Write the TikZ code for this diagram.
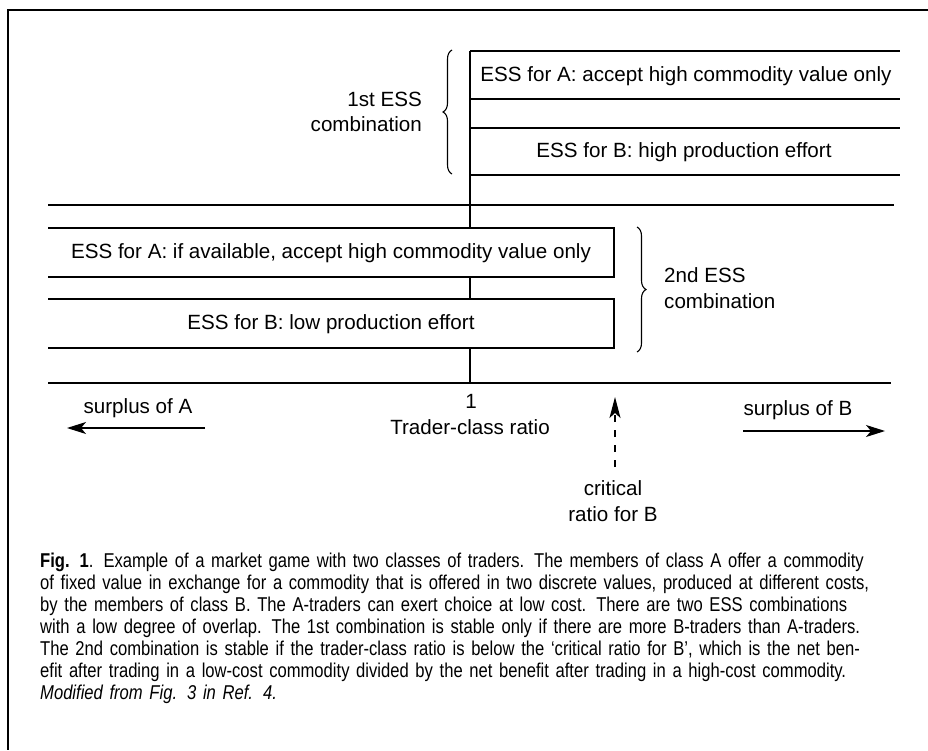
\documentclass[tikz,border=0pt]{standalone}
\usepackage{fontspec}
\setmainfont{Liberation Sans}
\newfontfamily\capfont[FakeStretch=0.83]{Liberation Sans}
\usetikzlibrary{arrows.meta,decorations.pathreplacing}
\tikzset{
  lbl/.style={inner sep=0pt, font=\fontsize{20.6}{25.5}\selectfont},
  thin line/.style={line width=1.2pt},
  thick line/.style={line width=2.7pt},
  boxshape/.style={line width=1.2pt, fill=white},
  bracestyle/.style={line width=1.1pt, decorate, decoration={brace, amplitude=9pt}},
  surplusarrow/.style={line width=1.2pt, -{Stealth[length=19pt, width=12pt, inset=5pt]}},
  critarrow/.style={line width=1.2pt, dash pattern=on 7pt off 8pt, -{Stealth[length=21pt, width=11pt, inset=5pt]}},
}
\newcommand{\capline}[1]{\makebox[858pt][s]{#1}}
\begin{document}
\begin{tikzpicture}[x=1pt,y=-1pt]
\useasboundingbox (0,0) rectangle (928,750);
% frame
\coordinate (fTL) at (8,10);
\coordinate (fTR) at (928,10);
\coordinate (fBL) at (8,750);
\draw[line width=1.3pt] (fTR) -- (fTL) -- (fBL);

% axis coordinates
\coordinate (axTop) at (470,51);
\coordinate (axBot) at (470,383);
\draw[thick line] (axTop) -- (axBot);

% top rows
\foreach \yy/\nm in {51/r1,99/r2,128/r3,175/r4}{
  \coordinate (\nm L) at (470,\yy);
  \coordinate (\nm R) at (900,\yy);
  \draw[thin line] (\nm L) -- (\nm R);
}
\node[lbl] (essA1) at (686,76) {ESS for A: accept high commodity value only};
\node[lbl] (essB1) at (684,152) {ESS for B: high production effort};

% thick middle line
\coordinate (midL) at (48,205);
\coordinate (midR) at (894,205);
\draw[thick line] (midL) -- (midR);

% lower boxes
\draw[boxshape] (48,228) -- (614,228) -- (614,277) -- (48,277);
\draw[boxshape] (48,299) -- (614,299) -- (614,348) -- (48,348);
\node[lbl] (essA2) at (331,253) {ESS for A: if available, accept high commodity value only};
\node[lbl] (essB2) at (331,324) {ESS for B: low production effort};

% bottom axis line
\coordinate (botL) at (48,383);
\coordinate (botR) at (891,383);
\draw[thick line] (botL) -- (botR);

% braces
\coordinate (b1bot) at (452,174);
\coordinate (b1top) at (452,50);
\draw[bracestyle] (b1bot) -- (b1top);
\node[lbl, align=right, anchor=east] (first) at (422,112) {1st ESS\\combination};

\coordinate (b2top) at (637,227);
\coordinate (b2bot) at (637,352);
\draw[bracestyle] (b2top) -- (b2bot);
\node[lbl, align=left, anchor=west] (second) at (664,288) {2nd ESS\\combination};

% axis labels
\node[lbl] (one) at (471,401) {1};
\node[lbl] (tcr) at (470,427) {Trader-class ratio};

\node[lbl] (surA) at (138,408) {surplus of A};
\coordinate (aS) at (205,428);
\coordinate (aE) at (67,428);
\draw[surplusarrow] (aS) -- (aE);

\node[lbl] (surB) at (798,410) {surplus of B};
\coordinate (bS) at (743,431);
\coordinate (bE) at (885,431);
\draw[surplusarrow] (bS) -- (bE);

\node[lbl, align=center] (crit) at (613,501) {critical\\ratio for B};
\coordinate (cS) at (615,467);
\coordinate (cE) at (615,397);
\draw[critarrow] (cS) -- (cE);

% caption
\node[anchor=north west, inner sep=0pt, align=left, text width=858pt,
      font=\capfont\fontsize{20}{21.9}\selectfont] (caption) at (40,553) {%
\capline{\textbf{Fig. 1}. Example of a market game with two classes of traders. The members of class A offer a commodity}\\
\capline{of fixed value in exchange for a commodity that is offered in two discrete values, produced at different costs,}\\
\capline{by the members of class B. The A-traders can exert choice at low cost. There are two ESS combinations}\\
\capline{with a low degree of overlap. The 1st combination is stable only if there are more B-traders than A-traders.}\\
\capline{The 2nd combination is stable if the trader-class ratio is below the ‘critical ratio for B’, which is the net ben-}\\
\capline{efit after trading in a low-cost commodity divided by the net benefit after trading in a high-cost commodity.}\\
\textit{Modified from Fig. 3 in Ref. 4.}};
\end{tikzpicture}
\end{document}
